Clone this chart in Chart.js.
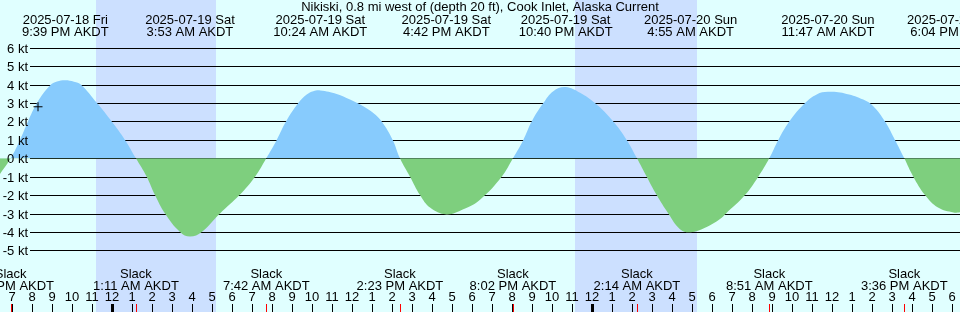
<!DOCTYPE html>
<html>
<head>
<meta charset="utf-8">
<script src="https://cdn.jsdelivr.net/npm/chart.js@4.4.1/dist/chart.umd.min.js"></script>
<style>
	html, body { margin: 0; padding: 0; background: #e0ffff; }
	canvas { display: block; }
</style>
</head>
<body>
<canvas id="tideChart" width="960" height="312"></canvas>
<script>
// hours are counted from 2025-07-19 00:00 AKDT
const title = 'Nikiski, 0.8 mi west of (depth 20 ft), Cook Inlet, Alaska Current';

const curveHours = [
	-5.615, -5.08, -4.615, -4.215, -3.765, -3.115, -2.765, -2.35, -1.915, -1.565, -0.765, -0.03, 0.635, 1.18,
	1.72, 2.135, 2.635, 3.385, 3.885, 4.47, 5.385, 6.36, 7.135, 7.70,
	8.22, 8.685, 9.30, 9.72, 10.05, 10.40, 11.22, 11.885, 12.55, 13.05, 13.47, 14.02, 14.383,
	14.885, 15.385, 15.885, 16.70, 17.55, 18.385, 19.47, 20.033,
	20.55, 20.97, 21.55, 22.05, 22.667, 23.385, 24.135, 25.05, 25.72, 26.233,
	26.72, 27.22, 27.80, 28.385, 28.917, 29.635, 30.385, 30.685, 31.635, 32.30, 32.85,
	33.30, 33.85, 34.635, 35.22, 35.783, 36.72, 37.55, 38.05, 38.635, 39.135, 39.60,
	40.05, 40.635, 41.285, 42.067, 42.385
];
const curveKnots = [
	-0.85, 0, 1.0, 2.0, 3.0, 3.95, 4.17, 4.24, 4.16, 4.0, 3.0, 2.0, 1.0, 0,
	-1, -2, -3, -4, -4.25, -4, -3, -2, -1, 0,
	1, 2, 3, 3.47, 3.65, 3.69, 3.5, 3.19, 2.83, 2.46, 2.0, 1.0, 0,
	-1, -2, -2.68, -3.05, -2.77, -2.25, -1.0, 0,
	1, 2, 3, 3.65, 3.87, 3.56, 3.0, 2.0, 1.0, 0,
	-1, -2, -3, -3.85, -4.02, -3.78, -3.3, -3.0, -2, -1, 0,
	1, 2, 3, 3.47, 3.61, 3.5, 3.19, 2.83, 2.0, 1.0, 0,
	-1, -2, -2.68, -2.95, -2.93
];

const extremeHours = [-2.35, 3.883, 10.4, 16.7, 22.667, 28.917, 35.783, 42.067];
const extremeDates = [
	'2025-07-18 Fri', '2025-07-19 Sat', '2025-07-19 Sat', '2025-07-19 Sat',
	'2025-07-19 Sat', '2025-07-20 Sun', '2025-07-20 Sun', '2025-07-20 Sun'
];
const extremeTimes = [
	'9:39 PM AKDT', '3:53 AM AKDT', '10:24 AM AKDT', '4:42 PM AKDT',
	'10:40 PM AKDT', '4:55 AM AKDT', '11:47 AM AKDT', '6:04 PM AKDT'
];

const slackHours = [-5.08, 1.183, 7.7, 14.383, 20.033, 26.233, 32.85, 39.6];
const slackTimes = [
	'6:55 PM AKDT', '1:11 AM AKDT', '7:42 AM AKDT', '2:23 PM AKDT',
	'8:02 PM AKDT', '2:14 AM AKDT', '8:51 AM AKDT', '3:36 PM AKDT'
];

const nightStarts = [-0.815, 23.13];
const nightEnds = [5.18, 29.22];

const knotTicks = [6, 5, 4, 3, 2, 1, 0, -1, -2, -3, -4, -5];

const nowHour = -3.715;
const nowKnots = 2.8;

const DAY = '#e0ffff';
const NIGHT = '#cce0ff';
const FLOOD = '#87cbfd';
const EBB = '#7ecf7e';
const FONT = '13px "Liberation Sans", Arial, sans-serif';

const tidePlugin = {
	id: 'tideDecor',
	beforeDraw(chart) {
		const { ctx, width, height } = chart;
		const xs = chart.scales.x, ys = chart.scales.y;
		ctx.save();
		ctx.fillStyle = DAY;
		ctx.fillRect(0, 0, width, height);
		ctx.fillStyle = NIGHT;
		nightStarts.forEach((s, i) => {
			const a = Math.round(xs.getPixelForValue(s));
			const b = Math.round(xs.getPixelForValue(nightEnds[i]));
			ctx.fillRect(a, 0, b - a, height);
		});
		ctx.strokeStyle = '#000';
		ctx.lineWidth = 1;
		knotTicks.forEach(k => {
			const py = Math.round(ys.getPixelForValue(k)) + 0.5;
			ctx.beginPath();
			ctx.moveTo(30, py);
			ctx.lineTo(width, py);
			ctx.stroke();
		});
		ctx.restore();
	},
	afterDatasetsDraw(chart) {
		const { ctx, height } = chart;
		const xs = chart.scales.x, ys = chart.scales.y;
		ctx.save();
		ctx.font = FONT;
		ctx.fillStyle = '#000';

		// knot labels on the left
		ctx.textAlign = 'right';
		knotTicks.forEach(k => {
			const py = Math.round(ys.getPixelForValue(k));
			ctx.fillText(k + ' kt', 28, py + 5);
		});

		// title and max/min labels
		ctx.textAlign = 'center';
		ctx.fillText(title, chart.width / 2, 11);
		extremeHours.forEach((h, i) => {
			const px = xs.getPixelForValue(h);
			ctx.fillText(extremeDates[i], px, 24);
			ctx.fillText(extremeTimes[i], px, 36);
		});

		// slack labels
		slackHours.forEach((h, i) => {
			const px = xs.getPixelForValue(h);
			ctx.fillText('Slack', px, 278);
			ctx.fillText(slackTimes[i], px, 290);
		});

		// hour numbers and ticks
		for (let h = Math.ceil(xs.min); h <= Math.floor(xs.max); h++) {
			const px = Math.round(xs.getPixelForValue(h));
			const hr = ((h % 12) + 12) % 12 || 12;
			ctx.fillText(String(hr), px, 301);
			const midnight = ((h % 24) + 24) % 24 === 0;
			ctx.fillRect(midnight ? px - 1 : px, 304, midnight ? 3 : 1, height - 304);
		}

		// slack marks
		ctx.fillStyle = '#ff0000';
		slackHours.forEach(h => {
			const px = Math.round(xs.getPixelForValue(h));
			ctx.fillRect(px, 304, 1, height - 304);
		});
		ctx.restore();
	}
};

const config = {
	type: 'line',
	data: {
		datasets: [{
			label: 'Current',
			data: curveHours.map((h, i) => ({ x: h, y: curveKnots[i] })),
			borderWidth: 0,
			borderColor: 'rgba(0,0,0,0)',
			pointRadius: 0,
			tension: 0.4,
			fill: { target: { value: 0 }, above: FLOOD, below: EBB },
			order: 2
		}, {
			type: 'scatter',
			label: 'Now',
			data: [{ x: nowHour, y: nowKnots }],
			pointStyle: 'cross',
			pointRadius: 4.5,
			borderColor: '#000',
			borderWidth: 1,
			order: 1
		}]
	},
	options: {
		responsive: false,
		animation: false,
		devicePixelRatio: 1,
		layout: { padding: 0, autoPadding: false },
		scales: {
			x: { type: 'linear', min: -5.615, max: 42.385, display: false },
			y: { min: -8.353, max: 8.603, display: false }
		},
		plugins: {
			legend: { display: false },
			tooltip: { enabled: false }
		}
	},
	plugins: [tidePlugin]
};

new Chart(document.getElementById('tideChart'), config);
</script>
</body>
</html>
